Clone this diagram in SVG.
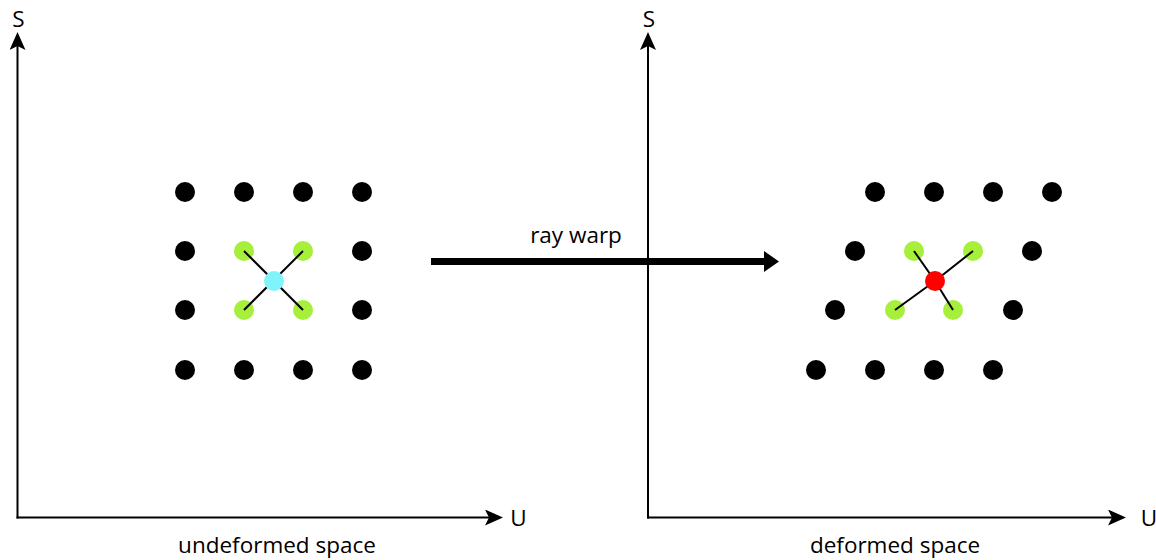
<svg xmlns="http://www.w3.org/2000/svg" width="1156" height="560" viewBox="0 0 1156 560">
<defs>
<style>
.axis{stroke:#000;stroke-width:2;fill:none}
.lbl{font-family:"Open Sans","Noto Sans","Liberation Sans",sans-serif;font-size:22.5px;fill:#000}
.dot{fill:#000}
.nb{fill:#a6f03c}
.link{stroke:#000;stroke-width:2}
</style>
<marker id="ah" viewBox="0 0 18 16" refX="4" refY="8" markerWidth="18" markerHeight="16" markerUnits="userSpaceOnUse" orient="auto">
<path d="M0,0 L18,8 L0,16 L4,8 Z" fill="#000"/>
</marker>
</defs>
<g id="undeformed-grid">
<circle class="dot" cx="185" cy="192" r="10"/><circle class="dot" cx="244" cy="192" r="10"/><circle class="dot" cx="303" cy="192" r="10"/><circle class="dot" cx="362" cy="192" r="10"/>
<circle class="dot" cx="185" cy="251" r="10"/><circle class="dot" cx="362" cy="251" r="10"/>
<circle class="dot" cx="185" cy="310" r="10"/><circle class="dot" cx="362" cy="310" r="10"/>
<circle class="dot" cx="185" cy="370" r="10"/><circle class="dot" cx="244" cy="370" r="10"/><circle class="dot" cx="303" cy="370" r="10"/><circle class="dot" cx="362" cy="370" r="10"/>
</g>
<g id="undeformed-neighbours">
<circle class="nb" cx="244" cy="251" r="10"/><circle class="nb" cx="303" cy="251" r="10"/>
<circle class="nb" cx="244" cy="310" r="10"/><circle class="nb" cx="303" cy="310" r="10"/>
</g>
<g id="deformed-grid">
<circle class="dot" cx="875" cy="192" r="10"/><circle class="dot" cx="934" cy="192" r="10"/><circle class="dot" cx="993" cy="192" r="10"/><circle class="dot" cx="1052" cy="192" r="10"/>
<circle class="dot" cx="855" cy="251" r="10"/><circle class="dot" cx="1032" cy="251" r="10"/>
<circle class="dot" cx="835" cy="310" r="10"/><circle class="dot" cx="1013" cy="310" r="10"/>
<circle class="dot" cx="816" cy="370" r="10"/><circle class="dot" cx="875" cy="370" r="10"/><circle class="dot" cx="934" cy="370" r="10"/><circle class="dot" cx="993" cy="370" r="10"/>
</g>
<g id="deformed-neighbours">
<circle class="nb" cx="914" cy="251" r="10"/><circle class="nb" cx="973" cy="251" r="10"/>
<circle class="nb" cx="895" cy="310" r="10"/><circle class="nb" cx="953" cy="310" r="10"/>
</g>
<g id="connectors">
<line class="axis" x1="17.5" y1="518.5" x2="17.5" y2="46" marker-end="url(#ah)"/>
<line class="axis" x1="16.5" y1="517.5" x2="489" y2="517.5" marker-end="url(#ah)"/>
<line class="axis" x1="648" y1="518.5" x2="648" y2="46" marker-end="url(#ah)"/>
<line class="axis" x1="647" y1="517.5" x2="1112" y2="517.5" marker-end="url(#ah)"/>
<path d="M431,258 H764 V251 L779,261.5 L764,272 V265 H431 Z" fill="#000"/>
<line class="link" x1="244" y1="251" x2="303" y2="310"/>
<line class="link" x1="303" y1="251" x2="244" y2="310"/>
<line class="link" x1="914" y1="251" x2="935" y2="281"/>
<line class="link" x1="973" y1="251" x2="935" y2="281"/>
<line class="link" x1="895" y1="310" x2="935" y2="281"/>
<line class="link" x1="953" y1="310" x2="935" y2="281"/>
</g>
<g id="undeformed-sample"><circle cx="274" cy="281" r="10" fill="#80f4fa"/></g>
<g id="deformed-sample"><circle cx="935" cy="281" r="10" fill="#ff0000"/></g>
<g id="labels">
<text class="lbl" x="18.5" y="27" text-anchor="middle">S</text>
<text class="lbl" x="649" y="27" text-anchor="middle">S</text>
<text class="lbl" x="518.5" y="526" text-anchor="middle">U</text>
<text class="lbl" x="1149" y="526" text-anchor="middle">U</text>
<text class="lbl" x="576" y="243" text-anchor="middle">ray warp</text>
<text class="lbl" x="277" y="553" text-anchor="middle">undeformed space</text>
<text class="lbl" x="895" y="553" text-anchor="middle">deformed space</text>
</g>
</svg>
